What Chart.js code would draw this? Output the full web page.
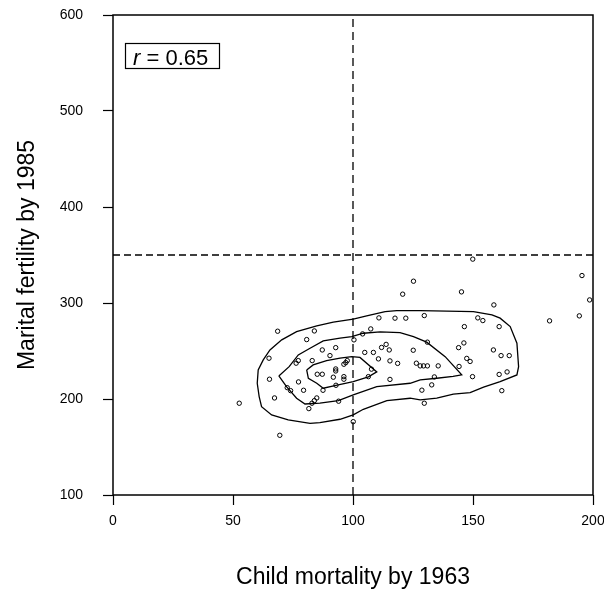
<!DOCTYPE html>
<html>
<head>
<meta charset="utf-8">
<script src="https://cdn.jsdelivr.net/npm/chart.js@4.4.1/dist/chart.umd.min.js"></script>
<style>
  html, body { margin: 0; padding: 0; background: #fff; }
</style>
</head>
<body>
<canvas id="c" width="604" height="591"></canvas>
<script>
// Scatter: child mortality 1963 vs marital fertility 1985, with density contours.
const xTicks = [0, 50, 100, 150, 200];
const yTicks = [100, 200, 300, 400, 500, 600];

const mortality = [68.6, 83.9, 80.7, 100.4, 107.4, 110.8, 117.5, 104.0, 65.0, 87.2, 92.8, 90.4, 77.2, 76.3, 83.0, 97.6, 97.0, 96.2, 92.8, 92.8,
  85.1, 87.2, 91.8, 96.2, 96.2, 107.7, 104.9, 108.5, 110.6, 111.9, 113.8, 115.1, 115.4, 118.6, 115.4, 65.2, 77.3, 72.6, 74.0, 79.4,
  87.5, 67.3, 84.9, 83.9, 82.9, 81.6, 94.0, 52.6, 100.1, 69.5, 149.9, 195.4, 198.6, 194.3, 181.9, 158.7, 152.0, 154.1, 160.9, 158.5,
  161.7, 165.1, 149.8, 160.9, 164.2, 162.0, 125.2, 120.7, 145.2, 122.0, 129.7, 146.4, 125.1, 146.2, 144.0, 126.4, 128.0, 129.4, 131.0, 135.5,
  144.2, 147.4, 148.8, 133.9, 132.8, 128.7, 129.7, 92.9, 106.4, 131.0];
const fertility = [270.6, 270.9, 261.9, 261.6, 273.0, 284.5, 284.2, 267.8, 242.5, 251.1, 253.5, 245.2, 240.0, 237.3, 240.0, 240.0, 237.9, 236.2, 231.3, 229.2,
  225.8, 225.8, 222.7, 223.3, 220.6, 231.1, 248.5, 248.5, 241.8, 253.7, 256.9, 251.1, 239.7, 237.1, 220.4, 220.6, 217.8, 211.8, 208.7, 209.1,
  209.1, 201.1, 201.1, 198.3, 195.6, 190.0, 197.7, 195.6, 176.4, 162.2, 345.7, 328.6, 303.2, 286.6, 281.4, 298.0, 284.5, 281.7, 275.4, 251.1,
  245.2, 245.2, 223.3, 225.6, 228.2, 208.7, 322.7, 309.2, 311.6, 284.2, 286.9, 275.4, 250.8, 258.4, 253.5, 237.3, 234.5, 234.5, 234.5, 234.5,
  233.9, 242.3, 239.1, 223.0, 214.7, 209.2, 195.6, 214.3, 223.3, 259.2];

// contour rings (closed)
const outerX = [60.1, 60.5, 62.6, 65.4, 70.3, 76.5, 84.9, 91.8, 100.1, 105.7, 113.4, 118.2, 128.0, 150.2, 157.9, 161.3, 165.5, 168.3, 169.0, 168.3,
  161.3, 154.4, 148.8, 141.8, 134.9, 128.0, 123.8, 114.1, 104.3, 100.1, 94.6, 86.2, 82.1, 73.0, 66.1, 61.9, 60.9, 60.1];
const outerY = [216.4, 230.3, 240.7, 251.1, 261.6, 270.2, 276.1, 280.0, 283.1, 286.6, 291.1, 292.1, 292.1, 291.1, 287.6, 284.2, 275.4, 258.1, 233.7, 225.1,
  218.1, 212.3, 206.6, 205.0, 200.8, 199.0, 200.8, 198.3, 189.3, 183.4, 178.9, 175.4, 174.7, 178.2, 183.4, 192.0, 202.5, 216.4];
const midX = [69.1, 73.4, 77.2, 82.1, 87.6, 94.6, 99.5, 104.3, 111.3, 119.6, 125.2, 130.7, 138.4, 145.3, 141.7, 134.9, 128.0, 123.8, 109.9, 100.1,
  93.9, 86.2, 80.0, 76.5, 72.3, 69.1];
const midY = [224.0, 233.7, 245.9, 252.9, 260.5, 263.3, 265.0, 268.5, 269.9, 269.2, 265.0, 259.2, 244.1, 225.1, 223.5, 221.6, 219.9, 216.4, 212.9, 204.2,
  198.3, 195.6, 194.8, 200.8, 212.9, 224.0];
const innerX = [80.7, 83.4, 89.0, 94.6, 99.5, 102.9, 109.9, 106.4, 100.1, 92.9, 87.6, 84.9, 81.4, 80.7];
const innerY = [230.3, 235.5, 240.0, 242.5, 244.1, 243.3, 228.2, 223.0, 218.1, 214.3, 211.2, 216.4, 221.6, 230.3];

// reference lines
const refMortality = 100;
const refFertility = 350;
const corrLabel = "0.65";

const FONT = "'Liberation Sans', Arial, Helvetica, sans-serif";

function pts(xs, ys) {
  return xs.map((x, i) => ({ x, y: ys[i] }));
}

function lineSet(data, dash) {
  return {
    data,
    showLine: true,
    borderColor: "#000",
    borderWidth: 1.3,
    borderDash: dash || [],
    pointRadius: 0,
    fill: false,
    tension: 0,
  };
}

const frameAndLabel = {
  id: "frameAndLabel",
  afterDatasetsDraw(chart) {
    const { ctx, chartArea: a } = chart;
    ctx.save();
    ctx.strokeStyle = "#000";
    ctx.lineWidth = 1.5;
    ctx.strokeRect(a.left, a.top, a.right - a.left, a.bottom - a.top);

    // r = 0.65 box
    ctx.lineWidth = 1.2;
    ctx.strokeRect(125.5, 43.5, 94, 25);
    ctx.fillStyle = "#000";
    ctx.textBaseline = "alphabetic";
    ctx.font = "italic 22px " + FONT;
    ctx.fillText("r", 133, 65);
    const rw = ctx.measureText("r").width;
    ctx.font = "22px " + FONT;
    ctx.fillText(" = " + corrLabel, 133 + rw, 65);
    ctx.restore();
  },
};

new Chart(document.getElementById("c"), {
  type: "scatter",
  data: {
    datasets: [
      {
        data: pts(mortality, fertility),
        pointRadius: 2.2,
        pointBorderWidth: 1,
        pointBorderColor: "#000",
        pointBackgroundColor: "rgba(0,0,0,0)",
        showLine: false,
      },
      lineSet(pts(outerX, outerY)),
      lineSet(pts(midX, midY)),
      lineSet(pts(innerX, innerY)),
      lineSet([{ x: refMortality, y: 100 }, { x: refMortality, y: 600 }], [8, 5]),
      lineSet([{ x: 0, y: refFertility }, { x: 200, y: refFertility }], [7, 4]),
    ],
  },
  options: {
    responsive: false,
    animation: false,
    devicePixelRatio: 1,
    layout: { padding: { left: 0, right: 11, top: 15, bottom: 0 } },
    plugins: { legend: { display: false }, tooltip: { enabled: false } },
    scales: {
      x: {
        type: "linear",
        min: 0,
        max: 200,
        afterBuildTicks: (s) => { s.ticks = xTicks.map((v) => ({ value: v })); },
        afterFit: (s) => { s.height = 96; s.paddingLeft = 0; s.paddingRight = 0; },
        border: { display: false },
        grid: { drawOnChartArea: false, drawTicks: true, tickLength: 10, tickColor: "#000", tickWidth: 1.2 },
        ticks: { color: "#000", padding: 8, font: { family: FONT, size: 14 } },
        title: {
          display: true,
          text: "Child mortality by 1963",
          color: "#000",
          font: { family: FONT, size: 23 },
          padding: { top: 0, bottom: 0 },
        },
      },
      y: {
        type: "linear",
        min: 100,
        max: 600,
        afterBuildTicks: (s) => { s.ticks = yTicks.map((v) => ({ value: v })); },
        afterFit: (s) => { s.width = 113; s.paddingTop = 0; s.paddingBottom = 0; },
        border: { display: false },
        grid: { drawOnChartArea: false, drawTicks: true, tickLength: 10, tickColor: "#000", tickWidth: 1.2 },
        ticks: { color: "#000", padding: 20, font: { family: FONT, size: 14 } },
        title: {
          display: true,
          text: "Marital fertility by 1985",
          color: "#000",
          font: { family: FONT, size: 23 },
          padding: { top: 14, bottom: 0 },
        },
      },
    },
  },
  plugins: [frameAndLabel],
});
</script>
</body>
</html>
